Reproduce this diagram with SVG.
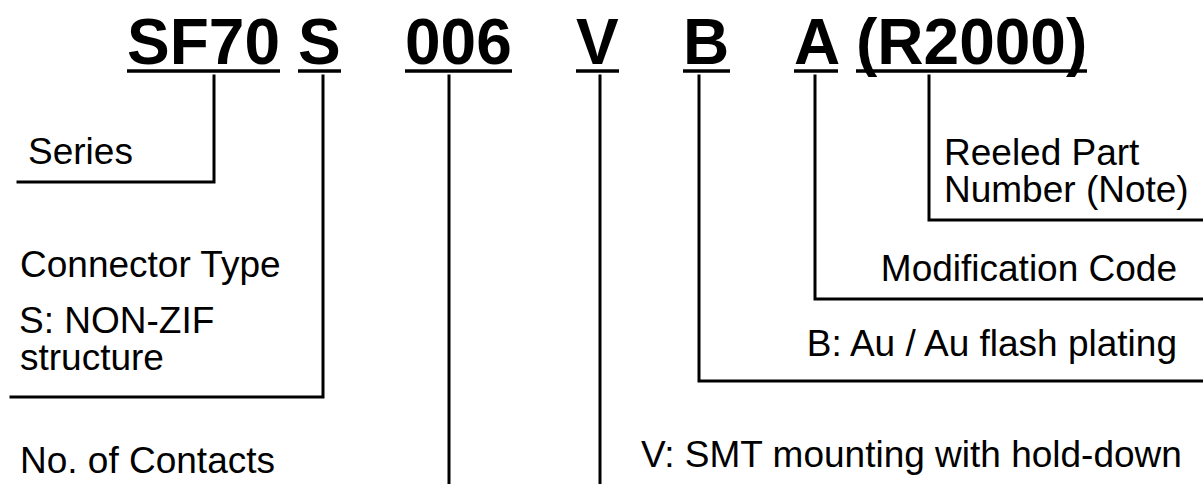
<svg xmlns="http://www.w3.org/2000/svg" width="1203" height="484" viewBox="0 0 1203 484">
<style>
.code{font-family:"Liberation Sans",Arial,sans-serif;font-weight:bold;font-size:64px;fill:#000}
.lbl{font-family:"Liberation Sans",Arial,sans-serif;font-size:37px;fill:#000}
.ul{stroke:#000;stroke-width:3.5;fill:none}
.ln{stroke:#000;stroke-width:3;fill:none;stroke-linecap:square}
</style>
<rect width="1203" height="484" fill="#fff"/>
<g id="code">
<text class="code" x="127" y="64">SF70</text>
<text class="code" x="298" y="64">S</text>
<text class="code" x="405" y="64">006</text>
<text class="code" x="576" y="64">V</text>
<text class="code" x="683" y="64">B</text>
<text class="code" x="794" y="64">A</text>
<text class="code" x="856" y="64">(R2000)</text>
<line class="ul" x1="127" y1="71" x2="280" y2="71"/>
<line class="ul" x1="298" y1="71" x2="341" y2="71"/>
<line class="ul" x1="405" y1="71" x2="512" y2="71"/>
<line class="ul" x1="576" y1="71" x2="619" y2="71"/>
<line class="ul" x1="683" y1="71" x2="730" y2="71"/>
<line class="ul" x1="794" y1="71" x2="838" y2="71"/>
<line class="ul" x1="856" y1="71" x2="1087" y2="71"/>
</g>
<g id="connectors">
<polyline class="ln" points="214,76 214,182 18,182"/>
<polyline class="ln" points="323,76 323,397 11,397"/>
<line class="ln" x1="449" y1="76" x2="449" y2="486"/>
<line class="ln" x1="600" y1="76" x2="600" y2="486"/>
<polyline class="ln" points="699,76 699,381 1206,381"/>
<polyline class="ln" points="815,76 815,299 1206,299"/>
<polyline class="ln" points="929,76 929,220 1206,220"/>
</g>
<g id="series"><text class="lbl" x="28" y="164">Series</text></g>
<g id="connector-type">
<text class="lbl" x="20" y="277">Connector Type</text>
<text class="lbl" x="19" y="333">S: NON-ZIF</text>
<text class="lbl" x="20" y="370">structure</text>
</g>
<g id="contacts"><text class="lbl" x="20" y="473">No. of Contacts</text></g>
<g id="mounting"><text class="lbl" x="641" y="467">V: SMT mounting with hold-down</text></g>
<g id="plating"><text class="lbl" x="1177" y="356" text-anchor="end">B: Au / Au flash plating</text></g>
<g id="modification"><text class="lbl" x="1177" y="281" text-anchor="end">Modification Code</text></g>
<g id="reeled">
<text class="lbl" x="944" y="165">Reeled Part</text>
<text class="lbl" x="944" y="202">Number (Note)</text>
</g>
</svg>
